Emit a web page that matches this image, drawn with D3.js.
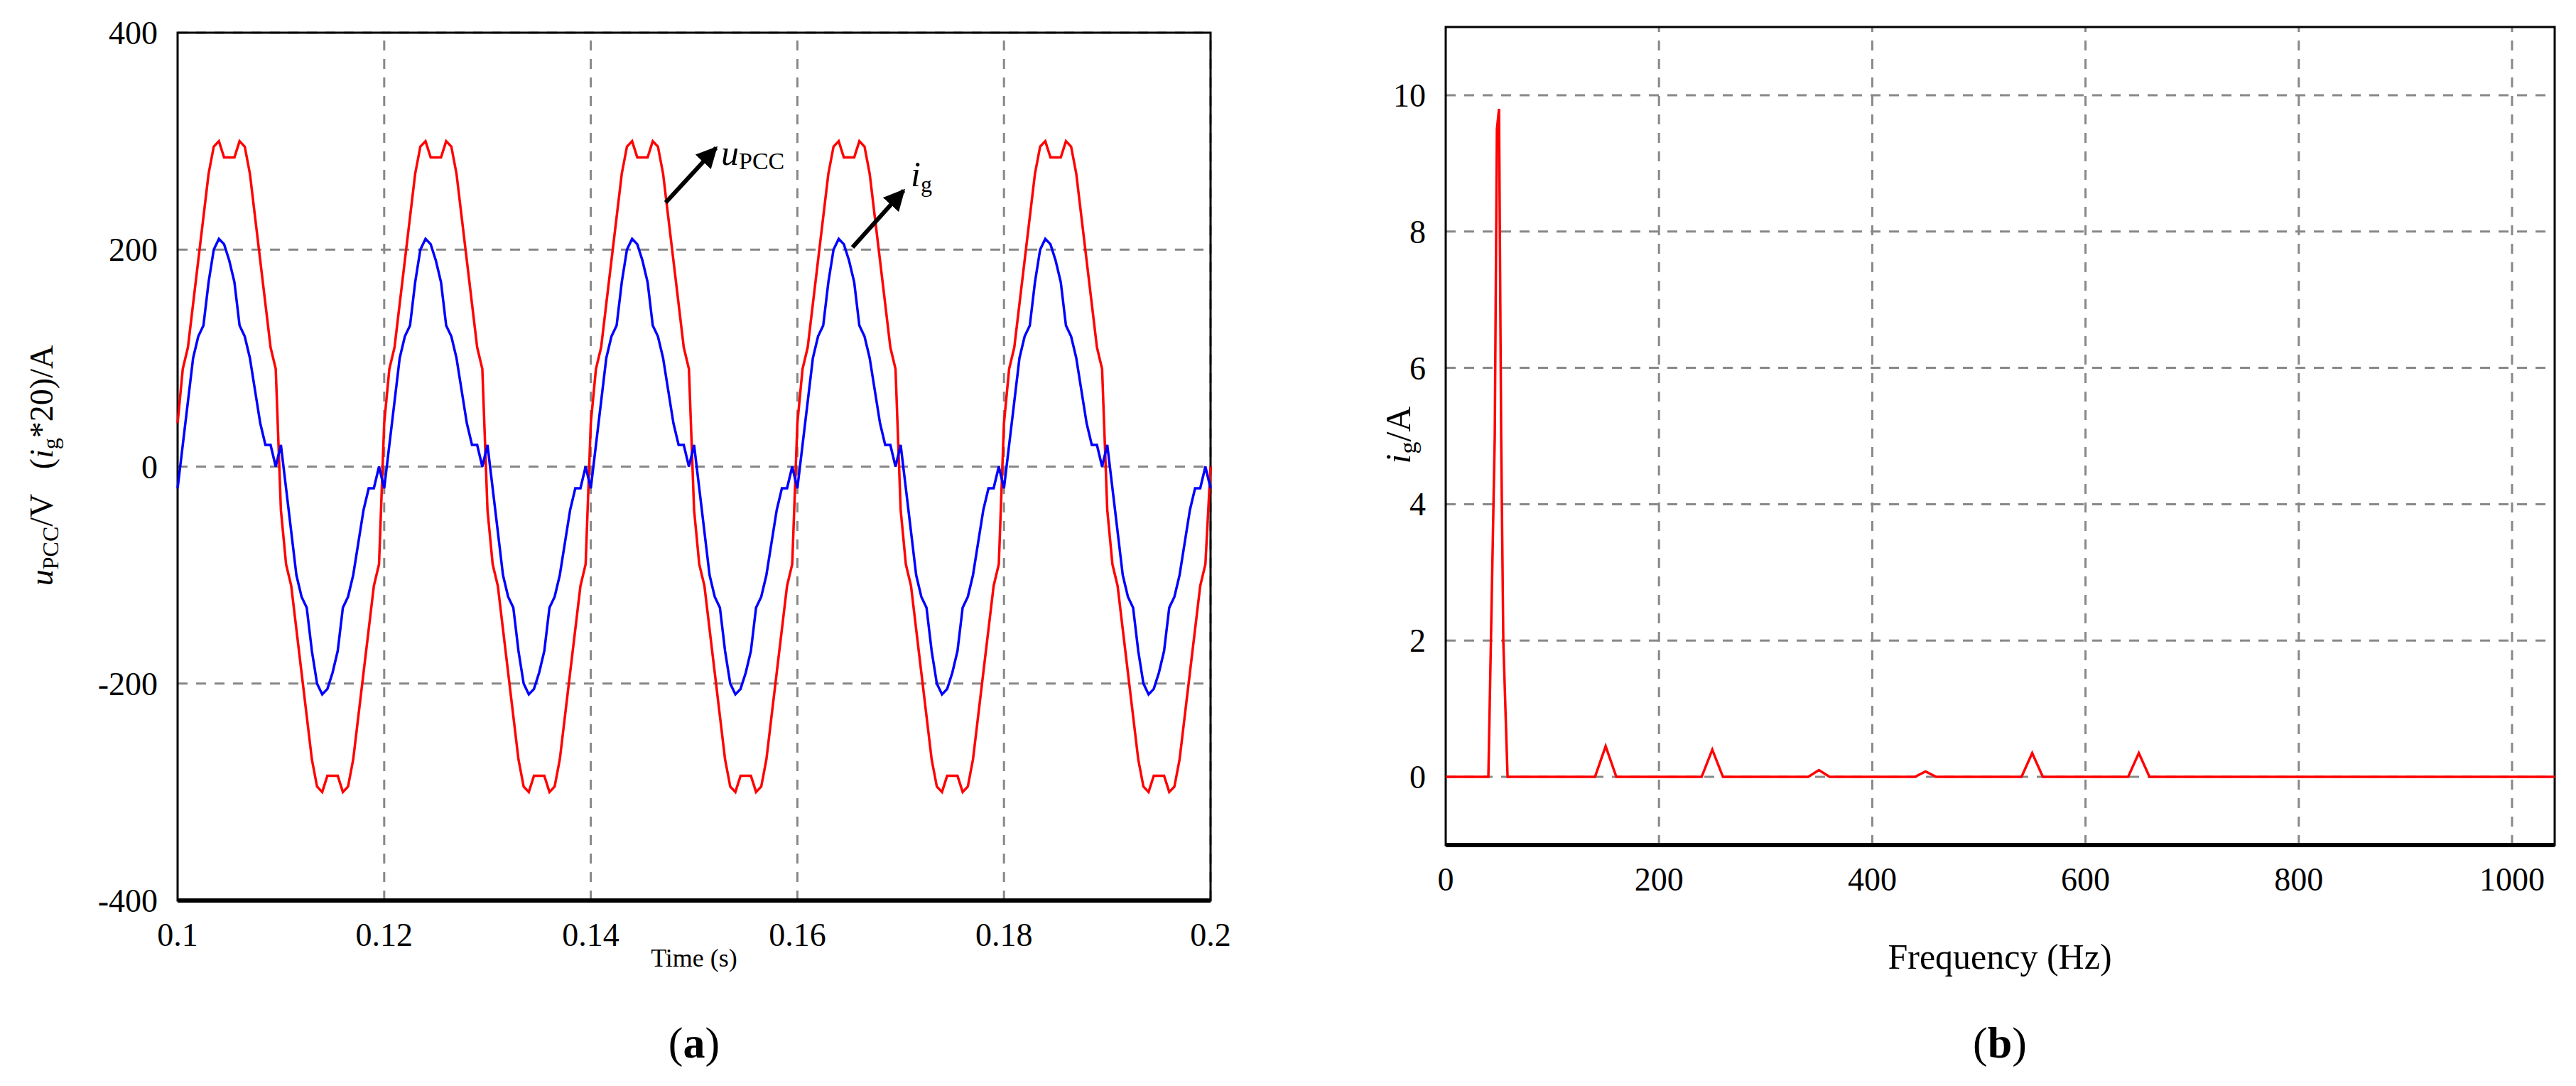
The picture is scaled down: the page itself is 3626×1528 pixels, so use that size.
<!DOCTYPE html>
<html>
<head>
<meta charset="utf-8">
<script src="https://cdn.jsdelivr.net/npm/d3@7"></script>
<style>
  body { margin: 0; background: #fff; }
  text { font-family: "Liberation Serif", "DejaVu Serif", serif; }
</style>
</head>
<body>
<svg id="chart" width="3626" height="1528"></svg>
<script>
const cycleTimes = d3.range(0, 20, 0.5);
const upccCycle = [40, 90, 110, 150, 190, 230, 270, 295, 300, 285, 285, 285, 300, 295, 270, 230, 190, 150, 110, 90,
                   -40, -90, -110, -150, -190, -230, -270, -295, -300, -285, -285, -285, -300, -295, -270, -230, -190, -150, -110, -90];
const igCycle = [-20, 20, 60, 100, 120, 130, 170, 200, 210, 205, 190, 170, 130, 120, 100, 70, 40, 20, 20, 0,
                 20, -20, -60, -100, -120, -130, -170, -200, -210, -205, -190, -170, -130, -120, -100, -70, -40, -20, -20, 0];
const periodStarts = [0.10, 0.12, 0.14, 0.16, 0.18];

// spectrum of i_g
const freqs = [0, 40, 46, 48, 50, 52, 54, 58, 140, 150, 160, 240, 250, 260, 340, 350, 360, 440, 450, 460, 540, 550, 560, 640, 650, 660, 1040];
const amps  = [0, 0, 5.0, 9.5, 9.8, 5.0, 2.0, 0, 0, 0.45, 0, 0, 0.4, 0, 0, 0.1, 0, 0, 0.08, 0, 0, 0.35, 0, 0, 0.35, 0, 0];

const timeTicks = [0.1, 0.12, 0.14, 0.16, 0.18, 0.2];
const voltTicks = [-400, -200, 0, 200, 400];
const freqTicks = [0, 200, 400, 600, 800, 1000];
const ampTicks = [0, 2, 4, 6, 8, 10];

const svg = d3.select("#chart");

// build series from the repeating cycle
let upcc = [], ig = [];
periodStarts.forEach(t0 => {
    cycleTimes.forEach((ms, i) => {
        upcc.push([t0 + ms / 1000, upccCycle[i]]);
        ig.push([t0 + ms / 1000, igCycle[i]]);
    });
});
upcc.push([0.2, 0]);
ig.push([0.2, igCycle[0]]);

function panel(x, y, xTicks, yTicks, xFmt, yFmt) {
    const g = svg.append("g");
    const [x0, x1] = x.range(), [y0, y1] = y.range();
    // grid
    g.selectAll(".gx").data(xTicks.slice(1)).join("line")
        .attr("x1", d => x(d)).attr("x2", d => x(d)).attr("y1", y0).attr("y2", y1)
        .attr("stroke", "#888").attr("stroke-width", 3).attr("stroke-dasharray", "14,12");
    g.selectAll(".gy").data(yTicks).join("line")
        .attr("x1", x0).attr("x2", x1).attr("y1", d => y(d)).attr("y2", d => y(d))
        .attr("stroke", "#888").attr("stroke-width", 3).attr("stroke-dasharray", "14,12");
    // frame
    g.append("rect").attr("x", x0).attr("y", y1).attr("width", x1 - x0).attr("height", y0 - y1)
        .attr("fill", "none").attr("stroke", "#000").attr("stroke-width", 3);
    g.append("line").attr("x1", x0).attr("x2", x1).attr("y1", y0).attr("y2", y0)
        .attr("stroke", "#000").attr("stroke-width", 6);
    // tick labels
    g.selectAll(".tx").data(xTicks).join("text")
        .attr("x", d => x(d)).attr("y", y0 + 64).attr("text-anchor", "middle")
        .attr("font-size", 46).text(xFmt);
    g.selectAll(".ty").data(yTicks).join("text")
        .attr("x", x0 - 28).attr("y", d => y(d) + 16).attr("text-anchor", "end")
        .attr("font-size", 46).text(yFmt);
    return g;
}

// ---- (a) time domain ----
const xa = d3.scaleLinear().domain([0.1, 0.2]).range([250, 1704]);
const ya = d3.scaleLinear().domain([-400, 400]).range([1267, 46]);
const ga = panel(xa, ya, timeTicks, voltTicks, d => String(d), d => String(d));

const lineA = d3.line().x(d => xa(d[0])).y(d => ya(d[1]));
ga.append("path").datum(upcc).attr("d", lineA).attr("fill", "none").attr("stroke", "#ff0000").attr("stroke-width", 3.5);
ga.append("path").datum(ig).attr("d", lineA).attr("fill", "none").attr("stroke", "#0000ff").attr("stroke-width", 3.5);

svg.append("defs").append("marker").attr("id", "arr").attr("viewBox", "0 0 10 10")
    .attr("refX", 9).attr("refY", 5).attr("markerWidth", 5).attr("markerHeight", 5).attr("orient", "auto")
    .append("path").attr("d", "M0,0 L10,5 L0,10 z").attr("fill", "#000");

ga.append("line").attr("x1", 937).attr("y1", 285).attr("x2", 1008).attr("y2", 208)
    .attr("stroke", "#000").attr("stroke-width", 6).attr("marker-end", "url(#arr)");
ga.append("line").attr("x1", 1200).attr("y1", 348).attr("x2", 1272).attr("y2", 268)
    .attr("stroke", "#000").attr("stroke-width", 6).attr("marker-end", "url(#arr)");
const lu = ga.append("text").attr("x", 1015).attr("y", 232).attr("font-size", 50);
lu.append("tspan").attr("font-style", "italic").text("u");
lu.append("tspan").attr("font-size", 34).attr("dy", 6).text("PCC");
const li = ga.append("text").attr("x", 1282).attr("y", 262).attr("font-size", 50);
li.append("tspan").attr("font-style", "italic").text("i");
li.append("tspan").attr("font-size", 32).attr("dy", 8).text("g");

ga.append("text").attr("x", (250 + 1704) / 2).attr("y", 1360).attr("text-anchor", "middle")
    .attr("font-size", 36).text("Time (s)");
const ylA = ga.append("text").attr("transform", "translate(74,655) rotate(-90)")
    .attr("text-anchor", "middle").attr("font-size", 46);
ylA.append("tspan").attr("font-style", "italic").text("u");
ylA.append("tspan").attr("font-size", 32).attr("dy", 8).text("PCC");
ylA.append("tspan").attr("dy", -8).text("/V\u00a0\u00a0\u00a0(");
ylA.append("tspan").attr("font-style", "italic").text("i");
ylA.append("tspan").attr("font-size", 32).attr("dy", 8).text("g");
ylA.append("tspan").attr("dy", -8).text("*20)/A");

// ---- (b) spectrum ----
const xb = d3.scaleLinear().domain([0, 1040]).range([2035, 3596]);
const yb = d3.scaleLinear().domain([-1, 11]).range([1189, 38]);
const gb = panel(xb, yb, freqTicks, ampTicks, d => String(d), d => String(d));
gb.append("path").datum(freqs.map((f, i) => [f, amps[i]]))
    .attr("d", d3.line().x(d => xb(d[0])).y(d => yb(d[1])))
    .attr("fill", "none").attr("stroke", "#ff0000").attr("stroke-width", 3.5);
gb.append("text").attr("x", 2815).attr("y", 1363).attr("text-anchor", "middle")
    .attr("font-size", 50).text("Frequency (Hz)");
const ylB = gb.append("text").attr("transform", "translate(1985,612) rotate(-90)")
    .attr("text-anchor", "middle").attr("font-size", 50);
ylB.append("tspan").attr("font-style", "italic").text("i");
ylB.append("tspan").attr("font-size", 34).attr("dy", 8).text("g");
ylB.append("tspan").attr("dy", -8).text("/A");

// captions
[[977, "a"], [2815, "b"]].forEach(([cx, s]) => {
    const t = svg.append("text").attr("x", cx).attr("y", 1488).attr("text-anchor", "middle").attr("font-size", 62);
    t.append("tspan").text("(");
    t.append("tspan").attr("font-weight", "bold").text(s);
    t.append("tspan").text(")");
});
</script>
</body>
</html>
